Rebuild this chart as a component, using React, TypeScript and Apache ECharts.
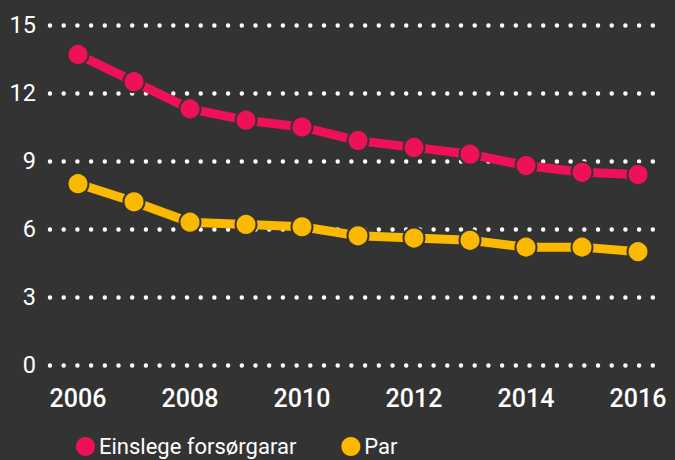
import React, { useEffect, useRef } from "react";
import * as echarts from "echarts";

const years = ["2006", "2007", "2008", "2009", "2010", "2011", "2012", "2013", "2014", "2015", "2016"];
const einslege = [13.7, 12.5, 11.3, 10.8, 10.5, 9.9, 9.6, 9.3, 8.8, 8.5, 8.4];
const par = [8.0, 7.2, 6.3, 6.2, 6.1, 5.7, 5.6, 5.5, 5.2, 5.2, 5.0];
const seriesNames = ["Einslege forsørgarar", "Par"];
const xTickLabels = ["2006", "2008", "2010", "2012", "2014", "2016"];

const FONT = "Roboto, 'Noto Sans', sans-serif";

export default function App() {
  const ref = useRef<HTMLDivElement>(null);
  useEffect(() => {
    if (!ref.current) return;
    const chart = echarts.init(ref.current, null, { renderer: "svg" });
    chart.setOption({
      animation: false,
      backgroundColor: "#333333",
      grid: { left: 50, right: 9, top: 25, bottom: 95, containLabel: false },
      legend: {
        left: 74,
        top: 435,
        padding: 0,
        icon: "circle",
        itemWidth: 21,
        itemHeight: 21,
        itemGap: 43,
        textStyle: {
          color: "#ffffff",
          fontSize: 22,
          lineHeight: 22,
          fontFamily: FONT,
          padding: [0, 0, 0, -2],
        },
        data: seriesNames,
      },
      xAxis: {
        type: "category",
        data: years,
        boundaryGap: true,
        axisLine: { show: false },
        axisTick: { show: false },
        axisLabel: {
          color: "#ffffff",
          fontSize: 25,
          fontWeight: 500,
          fontFamily: FONT,
          margin: 21,
          interval: 0,
          formatter: (v: string) => (xTickLabels.includes(v) ? v : ""),
        },
      },
      yAxis: {
        type: "value",
        min: 0,
        max: 15,
        interval: 3,
        axisLine: { show: false },
        axisTick: { show: false },
        axisLabel: { color: "#ffffff", fontSize: 23.5, fontFamily: FONT, margin: 14 },
        splitLine: {
          show: true,
          lineStyle: { color: "#ffffff", width: 4.5, type: [0, 13.7], cap: "round" },
        },
      },
      series: [
        {
          name: seriesNames[0],
          type: "line",
          data: einslege,
          symbol: "circle",
          symbolSize: 21,
          lineStyle: { color: "#EE1158", width: 9 },
          itemStyle: { color: "#EE1158", borderColor: "#333333", borderWidth: 2 },
          z: 3,
        },
        {
          name: seriesNames[1],
          type: "line",
          data: par,
          symbol: "circle",
          symbolSize: 21,
          lineStyle: { color: "#FBBA00", width: 9 },
          itemStyle: { color: "#FBBA00", borderColor: "#333333", borderWidth: 2 },
          z: 3,
        },
      ],
    });
    return () => chart.dispose();
  }, []);
  return (
    <div style={{ position: "fixed", left: 0, top: 0, width: 675, height: 460, background: "#333333" }}>
      <div ref={ref} style={{ width: 675, height: 460 }} />
    </div>
  );
}
